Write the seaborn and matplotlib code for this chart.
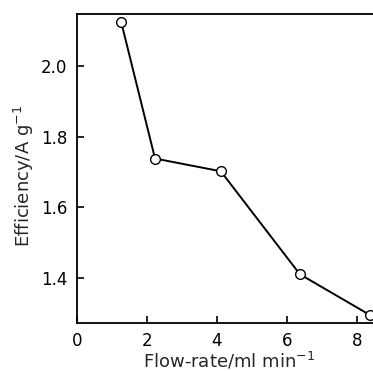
import pandas as pd
import seaborn as sns
import matplotlib
matplotlib.use("Agg")
import matplotlib.pyplot as plt

flow_rate = [1.26, 2.23, 4.11, 6.37, 8.37]
efficiency = [2.125, 1.738, 1.702, 1.411, 1.296]
x_ticks = [0, 2, 4, 6, 8]
y_ticks = [1.4, 1.6, 1.8, 2.0]

df = pd.DataFrame({"flow": flow_rate, "eff": efficiency})

sns.set_theme(style="ticks")
plt.rcParams['font.family'] = ['DejaVu Sans']

fig = plt.figure(figsize=(3.73, 3.71), dpi=100)
ax = fig.add_axes([0.2064, 0.130, 0.7936, 0.832])

sns.lineplot(
    data=df, x="flow", y="eff", ax=ax,
    color="black", linewidth=1.4,
    marker="o", markersize=7, markerfacecolor="white",
    markeredgecolor="black", markeredgewidth=1.0,
    clip_on=False,
)

ax.set_xlim(0, 8.46)
ax.set_ylim(1.274, 2.146)
ax.set_xticks(x_ticks)
ax.set_xticklabels([str(t) for t in x_ticks])
ax.set_yticks(y_ticks)
ax.set_yticklabels([f"{t:.1f}" for t in y_ticks])
ax.tick_params(direction="in", length=5, width=1.2, labelsize=12, colors="black")
ax.tick_params(axis="x", pad=7)
ax.tick_params(axis="y", pad=7)

for side in ["left", "bottom", "top"]:
    ax.spines[side].set_linewidth(1.3)
    ax.spines[side].set_color("black")
ax.spines["right"].set_visible(False)

ax.set_xlabel("Flow-rate/ml min$^{-1}$", fontsize=13)
ax.set_ylabel("Efficiency/A g$^{-1}$", fontsize=13)
ax.xaxis.set_label_coords(0.514, -0.09)
ax.yaxis.set_label_coords(-0.14, 0.476)

fig.savefig("out.png", dpi=100)
